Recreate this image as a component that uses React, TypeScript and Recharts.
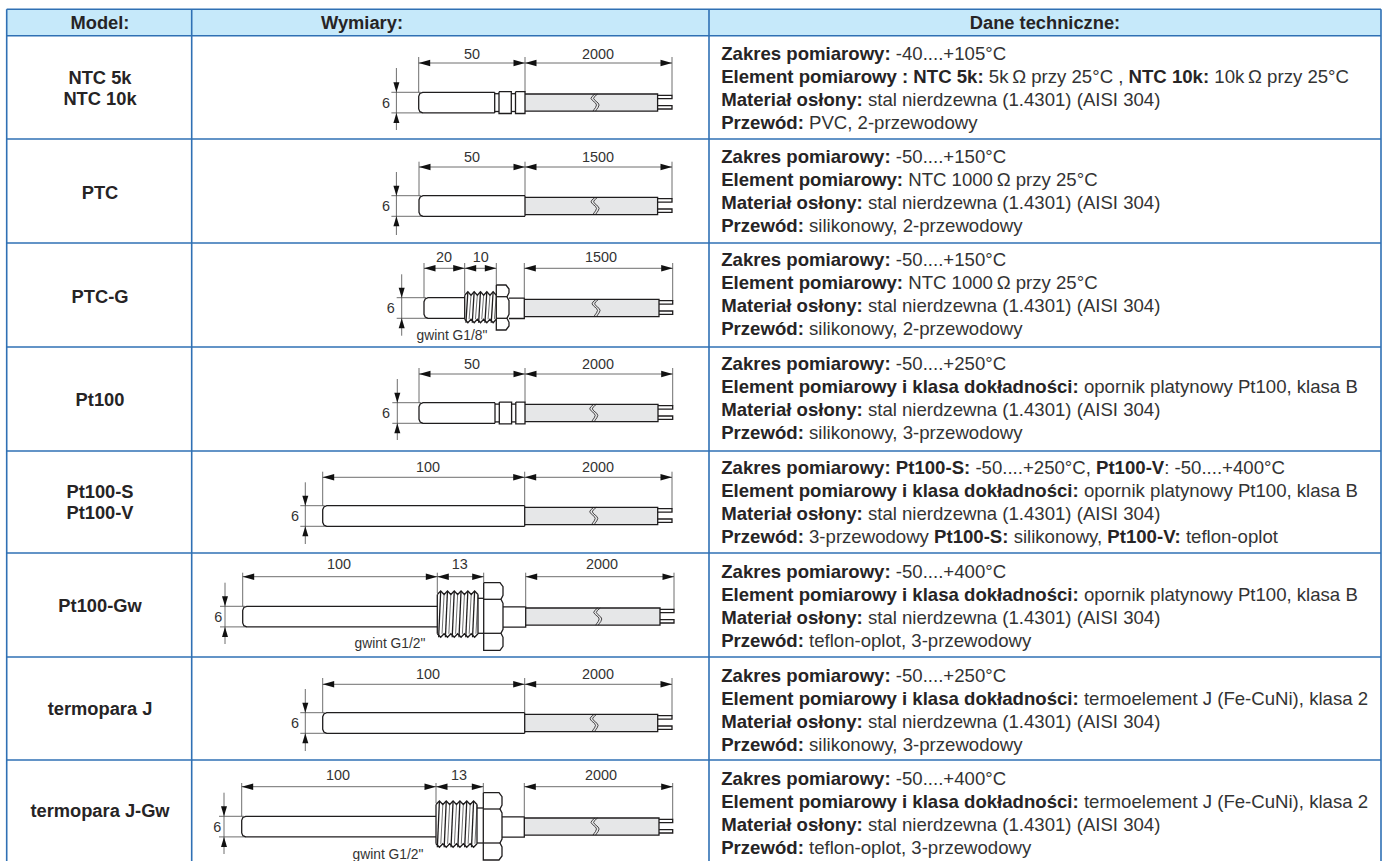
import { ComposedChart, Line, Scatter, XAxis, YAxis, ReferenceArea } from 'recharts';

const FONT = '"Liberation Sans", Arial, sans-serif';
const INK = '#262425';
const RULE = '#2f70b4';

type Pt = { x: number; y: number };

// Table frame
const columnEdges = [6.7, 191.7, 709, 1381];
const rowEdges = [9.3, 35.7, 139, 243, 347, 451, 553, 657, 760];
const headerLabels = ['Model:', 'Wymiary:', 'Dane techniczne:'];
const headerCenters = [100, 362, 1045];

const modelLabels = [
  ['NTC 5k', 'NTC 10k'], ['PTC'], ['PTC-G'], ['Pt100'],
  ['Pt100-S', 'Pt100-V'], ['Pt100-Gw'], ['termopara J'], ['termopara J-Gw'],
];
const modelCenters = [88, 192, 296, 399, 502, 605, 708, 810];

// Technical data column; ** toggles bold
const rangeTexts = [
  '**Zakres pomiarowy:** -40....+105°C',
  '**Zakres pomiarowy:** -50....+150°C',
  '**Zakres pomiarowy:** -50....+150°C',
  '**Zakres pomiarowy:** -50....+250°C',
  '**Zakres pomiarowy: Pt100-S:** -50....+250°C, **Pt100-V**: -50....+400°C',
  '**Zakres pomiarowy:** -50....+400°C',
  '**Zakres pomiarowy:** -50....+250°C',
  '**Zakres pomiarowy:** -50....+400°C',
];
const elementTexts = [
  '**Element pomiarowy : NTC 5k:** 5k\u2009Ω przy 25°C , **NTC 10k:** 10k\u2009Ω przy 25°C',
  '**Element pomiarowy:** NTC 1000\u2009Ω przy 25°C',
  '**Element pomiarowy:** NTC 1000\u2009Ω przy 25°C',
  '**Element pomiarowy i klasa dokładności:** opornik platynowy Pt100, klasa B',
  '**Element pomiarowy i klasa dokładności:** opornik platynowy Pt100, klasa B',
  '**Element pomiarowy i klasa dokładności:** opornik platynowy Pt100, klasa B',
  '**Element pomiarowy i klasa dokładności:** termoelement J (Fe-CuNi), klasa 2',
  '**Element pomiarowy i klasa dokładności:** termoelement J (Fe-CuNi), klasa 2',
];
const sheathText = '**Materiał osłony:** stal nierdzewna (1.4301) (AISI 304)';
const cableTexts = [
  '**Przewód:** PVC, 2-przewodowy',
  '**Przewód:** silikonowy, 2-przewodowy',
  '**Przewód:** silikonowy, 2-przewodowy',
  '**Przewód:** silikonowy, 3-przewodowy',
  '**Przewód:** 3-przewodowy **Pt100-S:** silikonowy, **Pt100-V:** teflon-oplot',
  '**Przewód:** teflon-oplot, 3-przewodowy',
  '**Przewód:** silikonowy, 3-przewodowy',
  '**Przewód:** teflon-oplot, 3-przewodowy',
];
const specFirstLines = [53.3, 156, 259.3, 363, 467, 570.5, 674.5, 777.5];
const specLineStep = 23;
const specLeft = 721.2;

// Probe drawings, one entry per row
const probeKinds = ['collar', 'plain', 'smallThread', 'collar', 'plain', 'bigThread', 'plain', 'bigThread'];
const probeLeft = [418.7, 419, 424, 419, 322.7, 242.7, 322.7, 241.7];
const probeSplit = [525, 525, 464.7, 525, 524.7, 437.3, 524.7, 436];
const cableStart = [525, 525, 524.3, 525, 524.7, 525.7, 524.7, 524.3];
const cableEnd = [657.6, 657.6, 659, 658, 657.7, 660, 657.7, 659];
const probeRight = [672, 672, 672.7, 672.7, 672, 674, 672, 672.7];
const bodyTop = [92.3, 195.7, 297.7, 402.7, 505.7, 606.3, 712.7, 816.3];
const breakX = [594, 594, 595, 592.7, 592.7, 596.7, 593, 594];
const dimY = [63, 167, 268.3, 374, 477.3, 576.7, 684.3, 786.7];
const dimTop = [57, 161.7, 263, 368, 471.7, 572.7, 678, 783];
const dimLabelY = [54, 157, 257, 364, 466.7, 564, 674, 775];
const sizeAxisX = [396.4, 396.4, 401.7, 397.3, 305.3, 225, 305.3, 224];
const sizeAxisTop = [68, 172, 274.3, 379, 482.3, 582.7, 689, 792.7];
const sizeAxisBottom = [130, 235, 335.7, 440, 544, 644, 751, 854];
const sizeLabelX = [386, 386, 390.7, 386, 295, 218.3, 295, 217.3];
const dimLabels = [
  [['50', 472], ['2000', 598]],
  [['50', 472], ['1500', 598]],
  [['20', 444], ['10', 480.7], ['1500', 601]],
  [['50', 472], ['2000', 598]],
  [['100', 428], ['2000', 598]],
  [['100', 339], ['13', 459.7], ['2000', 602]],
  [['100', 428], ['2000', 598]],
  [['100', 338], ['13', 459], ['2000', 601]],
];
const threadNotes = [null, null, ['gwint G1/8"', 452, 335.7], null, null, ['gwint G1/2"', 390, 643.3], null, ['gwint G1/2"', 388, 854]];
// x start, x end, top, bottom, teeth
const threadBoxes = [null, null, [464.7, 496.3, 291.7, 322.7, 5], null, null, [437.3, 478, 591, 637.3, 6], null, [436, 477, 801, 847.3, 6]];
// x start, x end, top, bottom, hex upper, hex lower
const nutBoxes = [null, null, [496.3, 509, 285, 330, 296.7, 318.3], null, null, [483.7, 503, 582.7, 650.3, 599.3, 633.3], null, [483.3, 502, 792.7, 860, 809, 843]];

const BODY_H = 20.6;

type Arrow = Pt & { dir: 'left' | 'right' | 'up' | 'down' };
const outline: Pt[][] = [];
const thinLines: Pt[][] = [];
const squiggles: Pt[][] = [];
const arrows: Arrow[] = [];
const cables: { x1: number; x2: number; y1: number; y2: number }[] = [];

const P = (x: number, y: number): Pt => ({ x, y });

probeKinds.forEach((kind, i) => {
  const L = probeLeft[i];
  const S = probeSplit[i];
  const C = cableStart[i];
  const E = cableEnd[i];
  const R = probeRight[i];
  const T = bodyTop[i];
  const B = T + BODY_H;
  const dy = dimY[i];
  const thread = threadBoxes[i] as number[] | null;
  const nut = nutBoxes[i] as number[] | null;

  // cable
  cables.push({ x1: C, x2: E, y1: T + 1.7, y2: B - 1.7 });
  outline.push([P(C, T + 1.7), P(E, T + 1.7), P(E, B - 1.7), P(C, B - 1.7)]);
  [4.7, 15].forEach((w) => {
    outline.push([P(E, T + w - 1.7), P(R, T + w - 1.7), P(R, T + w + 1.7), P(E, T + w + 1.7)]);
  });
  [0, 2.6].forEach((off) => {
    const bx = breakX[i] + off;
    const t = T + 1.7;
    squiggles.push([
      P(bx + 1, t), P(bx - 2, t + 2.5), P(bx - 3, t + 4.5), P(bx - 1.5, t + 6.5), P(bx + 1.5, t + 9),
      P(bx + 2.5, t + 11), P(bx + 1.5, t + 13.5), P(bx, t + 15.5), P(bx - 1, t + 17.2),
    ]);
  });

  // sensor body with a rounded tip
  const bodyEnd = kind === 'collar' ? L + 76 : thread ? thread[0] : C;
  outline.push([
    P(bodyEnd, T), P(L + 4, T), P(L + 1.2, T + 1.2), P(L, T + 4),
    P(L, B - 4), P(L + 1.2, B - 1.2), P(L + 4, B), P(bodyEnd, B),
  ]);
  if (kind === 'plain') outline.push([P(C, T), P(C, B)]);
  if (kind === 'collar') {
    outline.push([P(bodyEnd, T), P(bodyEnd, B)]);
    outline.push([P(bodyEnd, T + 1.4), P(L + 80.3, T + 1.4)]);
    outline.push([P(bodyEnd, B - 1.4), P(L + 80.3, B - 1.4)]);
    outline.push([P(L + 80.3, T - 0.6), P(L + 92.6, T - 0.6), P(L + 92.6, B + 0.6), P(L + 80.3, B + 0.6), P(L + 80.3, T - 0.6)]);
    outline.push([P(L + 92.6, T + 1.4), P(L + 96.8, T + 1.4)]);
    outline.push([P(L + 92.6, B - 1.4), P(L + 96.8, B - 1.4)]);
    outline.push([P(L + 96.8, T - 0.6), P(C, T - 0.6), P(C, B + 0.6), P(L + 96.8, B + 0.6), P(L + 96.8, T - 0.6)]);
  }

  if (thread) {
    const [x0, x1, top, bottom, teeth] = thread;
    const pitch = (x1 - x0) / teeth;
    const upper: Pt[] = [P(x0, top + 3.5)];
    const lower: Pt[] = [P(x0, bottom - 3.5)];
    for (let k = 0; k < teeth; k++) {
      upper.push(P(x0 + pitch * (k + 0.5), top), P(x0 + pitch * (k + 1), top + 3.5));
      lower.push(P(x0 + pitch * (k + 0.5), bottom), P(x0 + pitch * (k + 1), bottom - 3.5));
      outline.push([P(x0 + pitch * (k + 0.5), top), P(x0 + pitch * (k + 0.2), bottom)]);
      thinLines.push([P(x0 + pitch * (k + 1), top + 3.5), P(x0 + pitch * (k + 0.7), bottom - 3.5)]);
    }
    outline.push(upper, lower, [P(x0, top + 3.5), P(x0, bottom - 3.5)]);
  }
  if (nut && thread) {
    const [nx, nr, top, bottom, hexA, hexB] = nut;
    if (nx > thread[1]) {
      outline.push([P(thread[1], hexA - 1), P(nx, hexA - 1)]);
      outline.push([P(thread[1], hexB), P(nx, hexB)]);
      outline.push([P(thread[1], thread[2] + 3.5), P(thread[1], thread[3] - 3.5)]);
    }
    outline.push([
      P(nx, top), P(nr - 3, top), P(nr, top + 4), P(nr, hexA - 4), P(nr - 2, hexA), P(nr, hexA + 4),
      P(nr, hexB - 4), P(nr - 2, hexB), P(nr, hexB + 4), P(nr, bottom - 4), P(nr - 3, bottom), P(nx, bottom), P(nx, top),
    ]);
    outline.push([P(nx, hexA), P(nr - 2, hexA)], [P(nx, hexB), P(nr - 2, hexB)]);
    outline.push([P(nr, T + 0.5), P(C, T + 0.5), P(C, B + 0.2), P(nr, B + 0.2)]);
  }

  // length dimensions
  const spans: number[][] = thread ? [[L, S], [S, nut ? (nut[0] > thread[1] ? nut[0] : thread[1]) : S], [C, R]] : [[L, S], [S, R]];
  spans.forEach(([a, b]) => {
    thinLines.push([P(a, dy), P(b, dy)]);
    arrows.push({ x: a, y: dy, dir: 'left' }, { x: b, y: dy, dir: 'right' });
  });
  thinLines.push([P(L, dimTop[i]), P(L, T)]);
  thinLines.push([P(R, dimTop[i]), P(R, T + 3)]);
  spans.slice(1).forEach(([a]) => thinLines.push([P(a, dimTop[i]), P(a, thread && a === S ? thread[2] + 2 : T)]));
  if (thread) {
    const upTo = nut ? (nut[0] > thread[1] ? nut[0] : thread[1]) : S;
    thinLines.push([P(upTo, dimTop[i]), P(upTo, nut ? nut[2] : T)]);
  }

  // diameter dimension
  const vx = sizeAxisX[i];
  thinLines.push([P(vx, sizeAxisTop[i]), P(vx, sizeAxisBottom[i])]);
  thinLines.push([P(vx - 5, T), P(L + 2, T)], [P(vx - 5, B), P(L + 4, B)]);
  arrows.push({ x: vx, y: T, dir: 'down' }, { x: vx, y: B, dir: 'up' });
});

const frameSegments: Pt[][] = [
  ...columnEdges.map((x) => [P(x, rowEdges[0]), P(x, 861)]),
  ...rowEdges.map((y) => [P(columnEdges[0], y), P(columnEdges[3], y)]),
];

const parseRuns = (text: string) =>
  text.split('**').map((t, k) => ({ t, bold: k % 2 === 1 })).filter((r) => r.t.length > 0);

const headerPoints = headerLabels.map((text, i) => ({ x: headerCenters[i], y: 22.5, text }));
const modelPoints = modelLabels.flatMap((lines, i) =>
  lines.map((text, k) => ({ x: 100, y: modelCenters[i] + (k - (lines.length - 1) / 2) * 21, text })),
);
const specPoints = rangeTexts.flatMap((range, i) =>
  [range, elementTexts[i], sheathText, cableTexts[i]].map((text, k) => ({
    x: specLeft,
    y: specFirstLines[i] + k * specLineStep,
    runs: parseRuns(text),
  })),
);
const dimPoints = dimLabels.flatMap((labels, i) =>
  labels.map(([text, x]) => ({ x: x as number, y: dimLabelY[i], text })),
);
const sizePoints = bodyTop.map((t, i) => ({ x: sizeLabelX[i], y: t + BODY_H / 2, text: '6' }));
const notePoints = (threadNotes.filter(Boolean) as [string, number, number][]).map(([text, x, y]) => ({ x, y, text }));

const CenterBold = (p: any) => (
  <text x={p.cx} y={p.cy} textAnchor="middle" dominantBaseline="central" fontFamily={FONT} fontWeight="bold" fontSize={18.3} fill={INK}>
    {p.payload.text}
  </text>
);
const SpecLine = (p: any) => (
  <text x={p.cx} y={p.cy} dominantBaseline="central" fontFamily={FONT} fontSize={18.6} fill={INK}>
    {p.payload.runs.map((r: any, k: number) => (
      <tspan key={k} fontWeight={r.bold ? 'bold' : 'normal'} fill={r.bold ? INK : '#333'}>{r.t}</tspan>
    ))}
  </text>
);
const DimText = (p: any) => (
  <text x={p.cx} y={p.cy} textAnchor="middle" dominantBaseline="central" fontFamily={FONT} fontSize={14.4} fill="#333">
    {p.payload.text}
  </text>
);
const NoteText = (p: any) => (
  <text x={p.cx} y={p.cy} textAnchor="middle" dominantBaseline="central" fontFamily={FONT} fontSize={13.8} fill="#333">
    {p.payload.text}
  </text>
);
const ArrowHead = (p: any) => {
  const { cx, cy } = p;
  const dir = p.payload.dir;
  const points =
    dir === 'left' ? `${cx},${cy} ${cx + 11.5},${cy - 3.3} ${cx + 11.5},${cy + 3.3}`
    : dir === 'right' ? `${cx},${cy} ${cx - 11.5},${cy - 3.3} ${cx - 11.5},${cy + 3.3}`
    : dir === 'down' ? `${cx},${cy} ${cx - 3},${cy - 10} ${cx + 3},${cy - 10}`
    : `${cx},${cy} ${cx - 3},${cy + 10} ${cx + 3},${cy + 10}`;
  return <polygon points={points} fill="#111" />;
};

const path = (data: Pt[], key: string, stroke: string, width: number) => (
  <Line
    key={key}
    data={data}
    dataKey="y"
    type="linear"
    stroke={stroke}
    strokeWidth={width}
    dot={false}
    activeDot={false}
    legendType="none"
    isAnimationActive={false}
  />
);

export default function App() {
  return (
    <div style={{ position: 'absolute', left: 0, top: 0, width: 1384, height: 861, background: '#fff', overflow: 'hidden' }}>
      <ComposedChart width={1384} height={861} margin={{ top: 0, right: 0, bottom: 0, left: 0 }}>
        <XAxis hide type="number" dataKey="x" domain={[0, 1384]} allowDataOverflow />
        <YAxis hide type="number" dataKey="y" domain={[0, 861]} reversed allowDataOverflow width={0} />
        <ReferenceArea x1={columnEdges[0]} x2={columnEdges[3]} y1={rowEdges[0]} y2={rowEdges[1]} fill="#c6e9fa" fillOpacity={1} stroke="none" />
        {cables.map((c, i) => (
          <ReferenceArea key={`cable-${i}`} {...c} fill="#e6e7e8" fillOpacity={1} stroke="none" />
        ))}
        {frameSegments.map((s, i) => path(s, `frame-${i}`, RULE, 1.6))}
        {thinLines.map((s, i) => path(s, `thin-${i}`, '#4a4a4a', 0.8))}
        {outline.map((s, i) => path(s, `outline-${i}`, '#1f1d1e', 1.3))}
        {squiggles.map((s, i) => path(s, `break-${i}`, '#1f1d1e', 0.8))}
        <Scatter data={arrows} shape={ArrowHead} isAnimationActive={false} legendType="none" />
        <Scatter data={headerPoints} shape={CenterBold} isAnimationActive={false} legendType="none" />
        <Scatter data={modelPoints} shape={CenterBold} isAnimationActive={false} legendType="none" />
        <Scatter data={specPoints} shape={SpecLine} isAnimationActive={false} legendType="none" />
        <Scatter data={dimPoints} shape={DimText} isAnimationActive={false} legendType="none" />
        <Scatter data={sizePoints} shape={DimText} isAnimationActive={false} legendType="none" />
        <Scatter data={notePoints} shape={NoteText} isAnimationActive={false} legendType="none" />
      </ComposedChart>
    </div>
  );
}
